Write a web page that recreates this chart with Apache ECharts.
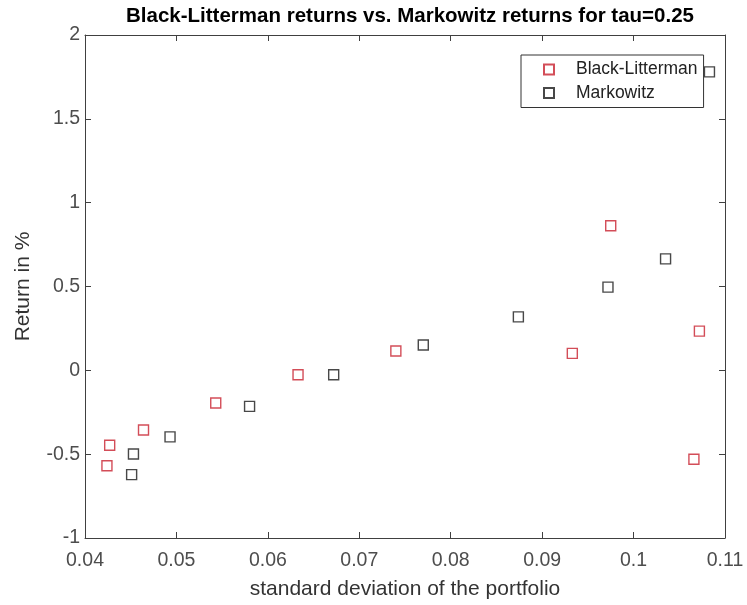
<!DOCTYPE html>
<html>
<head>
<meta charset="utf-8">
<script src="https://cdn.jsdelivr.net/npm/echarts@6/dist/echarts.min.js"></script>
<style>
  html, body { margin: 0; padding: 0; background: #fff; }
  #chart { width: 747px; height: 605px; }
</style>
</head>
<body>
<div id="chart"></div>
<script>
// Portfolio standard deviation (x) and expected return in % (y) for each model
const blStd = [0.0424, 0.0427, 0.0464, 0.0543, 0.0633, 0.0740, 0.0933, 0.0975, 0.1066, 0.1072];
const blRet = [-0.569, -0.447, -0.356, -0.195, -0.026, 0.115, 0.101, 0.862, -0.530, 0.234];
const mkStd = [0.0451, 0.0453, 0.0493, 0.0580, 0.0672, 0.0770, 0.0874, 0.0972, 0.1035, 0.1083];
const mkRet = [-0.622, -0.499, -0.397, -0.215, -0.026, 0.151, 0.319, 0.496, 0.665, 1.780];

const xTicks = [0.04, 0.05, 0.06, 0.07, 0.08, 0.09, 0.1, 0.11];
const yTicks = [-1, -0.5, 0, 0.5, 1, 1.5, 2];

const FONT = '"Liberation Sans", Arial, Helvetica, sans-serif';
const AXIS_COLOR = '#404040';
const LABEL_COLOR = '#4d4d4d';

const zip = (a, b) => a.map((v, i) => [v, b[i]]);
const fmt = v => String(Math.round(v * 1000) / 1000);

const chart = echarts.init(document.getElementById('chart'), null, { renderer: 'canvas' });

const baseAxis = {
  axisLine: { show: true, onZero: false, lineStyle: { color: AXIS_COLOR, width: 1 } },
  axisTick: { show: true, inside: true, length: 6, lineStyle: { color: AXIS_COLOR } },
  splitLine: { show: false }
};

chart.setOption({
  animation: false,
  backgroundColor: '#fff',
  title: {
    text: 'Black-Litterman returns vs. Markowitz returns for tau=0.25',
    left: 405, top: 1, textAlign: 'center',
    textStyle: { fontFamily: FONT, fontSize: 20.5, fontWeight: 'bold', color: '#000' }
  },
  grid: { left: 85, right: 22, top: 35, bottom: 67 },
  legend: {
    orient: 'vertical',
    left: 521, top: 55,
    padding: [5.5, 6, 5.5, 22],
    itemGap: 5.5,
    itemWidth: 10, itemHeight: 10,
    backgroundColor: '#fff',
    borderColor: '#333', borderWidth: 1,
    textStyle: { fontFamily: FONT, fontSize: 17.5, color: '#222', lineHeight: 17, padding: [0, 0, 0, 17] },
    data: ['Black-Litterman', 'Markowitz']
  },
  xAxis: [
    Object.assign({}, baseAxis, {
      type: 'value', min: 0.04, max: 0.11, interval: 0.01,
      name: 'standard deviation of the portfolio',
      nameLocation: 'middle', nameGap: 41,
      nameTextStyle: { fontFamily: FONT, fontSize: 21, color: '#333' },
      axisLabel: { fontFamily: FONT, fontSize: 19.5, color: LABEL_COLOR, margin: 13, formatter: fmt,
                   customValues: xTicks },
      axisTick: Object.assign({}, baseAxis.axisTick, { customValues: xTicks })
    }),
    Object.assign({}, baseAxis, {
      type: 'value', position: 'top', min: 0.04, max: 0.11, interval: 0.01,
      axisLabel: { show: false }
    })
  ],
  yAxis: [
    Object.assign({}, baseAxis, {
      type: 'value', min: -1, max: 2, interval: 0.5,
      name: 'Return in %',
      nameLocation: 'middle', nameGap: 51,
      nameTextStyle: { fontFamily: FONT, fontSize: 21, color: '#333' },
      axisLabel: { fontFamily: FONT, fontSize: 19.5, color: LABEL_COLOR, margin: 5, formatter: fmt,
                   customValues: yTicks },
      axisTick: Object.assign({}, baseAxis.axisTick, { customValues: yTicks })
    }),
    Object.assign({}, baseAxis, {
      type: 'value', position: 'right', min: -1, max: 2, interval: 0.5,
      axisLabel: { show: false }
    })
  ],
  series: [
    {
      name: 'Black-Litterman', type: 'scatter',
      symbol: 'rect', symbolSize: 10,
      itemStyle: { color: 'rgba(255,255,255,0)', borderColor: '#c8202e', borderWidth: 1.4 },
      data: zip(blStd, blRet)
    },
    {
      name: 'Markowitz', type: 'scatter',
      symbol: 'rect', symbolSize: 10,
      itemStyle: { color: 'rgba(255,255,255,0)', borderColor: '#1a1a1a', borderWidth: 1.4 },
      data: zip(mkStd, mkRet)
    }
  ]
});
</script>
</body>
</html>
